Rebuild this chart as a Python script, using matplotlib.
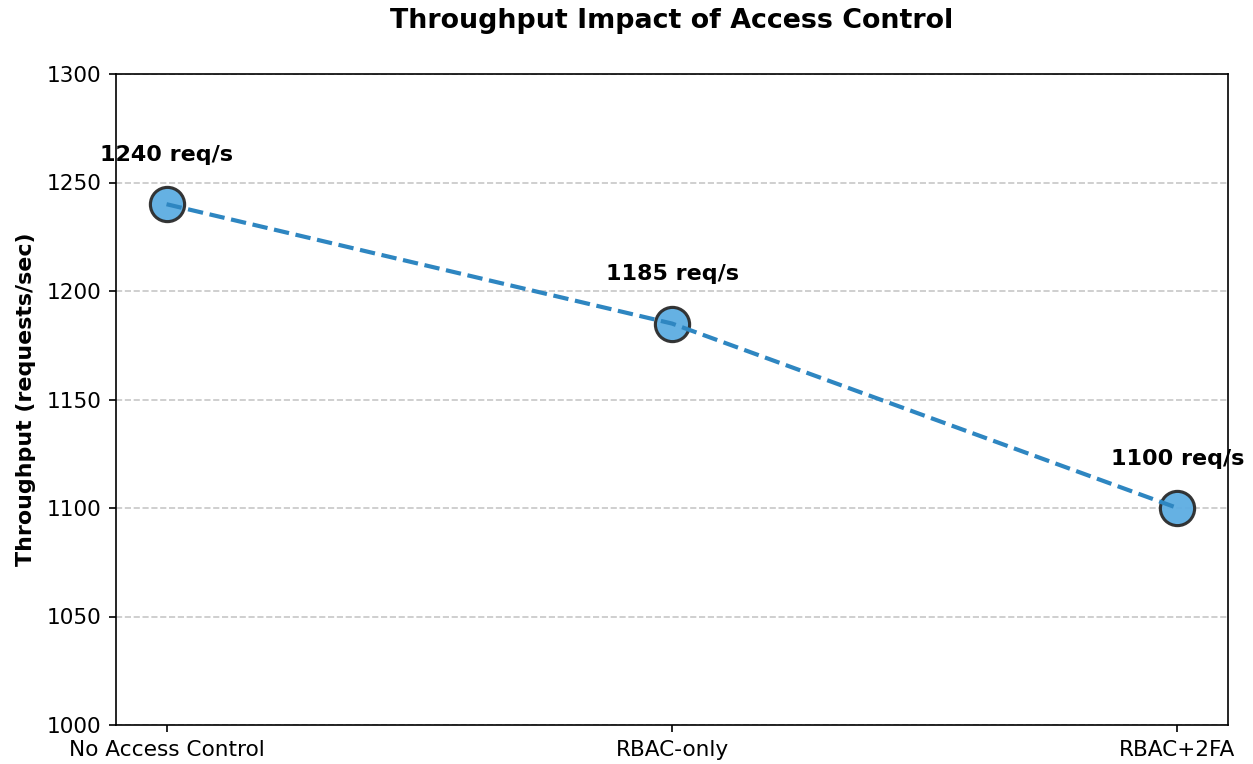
import matplotlib.pyplot as plt

configs = ["No Access Control", "RBAC-only", "RBAC+2FA"]
throughput = [1240, 1185, 1100]
yticks = [1000, 1050, 1100, 1150, 1200, 1250, 1300]

fig = plt.figure(figsize=(1253 / 150, 764 / 150), dpi=150)
ax = fig.add_axes([116 / 1253, 1 - 725 / 764, (1228 - 116) / 1253, (725 - 74) / 764])

x = list(range(len(configs)))
ax.scatter(x, throughput, s=270, color="#5DADE2", edgecolors="#2b2b2b",
           linewidths=1.5, alpha=0.95, zorder=3)
ax.plot(x, throughput, linestyle="--", color="#2E86C1", linewidth=2, zorder=4)

for xi, val in zip(x, throughput):
    ax.text(xi, val + 18, f"{val} req/s", ha="center", va="bottom",
            fontsize=10.7, fontweight="bold", zorder=5)

ax.set_xlim(-0.1, 2.1)
ax.set_ylim(1000, 1300)
ax.set_yticks(yticks)
ax.set_xticks(x)
ax.set_xticklabels(configs)
ax.tick_params(labelsize=10.4)
ax.grid(axis="y", linestyle="--", color="#b0b0b0", alpha=0.7)
ax.set_axisbelow(True)

ax.set_ylabel("Throughput (requests/sec)", fontsize=10.6, fontweight="bold",
              labelpad=5)
ax.set_title("Throughput Impact of Access Control", fontsize=12.9,
             fontweight="bold", pad=22)

fig.savefig("out.png", dpi=150)
